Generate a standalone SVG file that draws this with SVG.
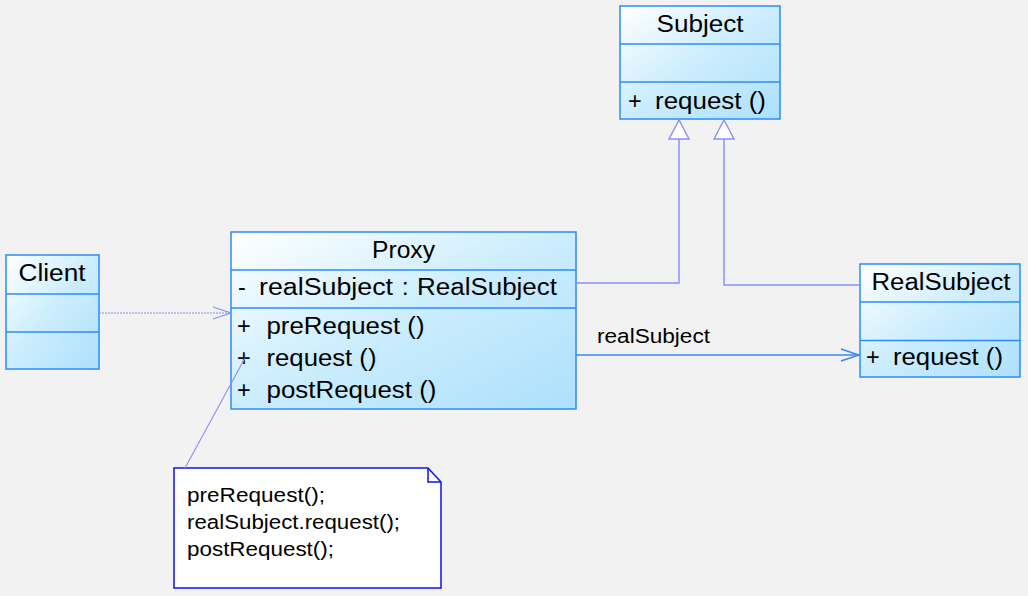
<svg xmlns="http://www.w3.org/2000/svg" width="1028" height="596" viewBox="0 0 1028 596">
<defs>
<linearGradient id="cls" x1="0" y1="0" x2="1" y2="1">
<stop offset="0" stop-color="#ffffff"/>
<stop offset="0.5" stop-color="#cbedfd"/>
<stop offset="1" stop-color="#ade0fc"/>
</linearGradient>
</defs>
<style>
.box{fill:url(#cls);stroke:#2a8cfc;stroke-width:1.5}
.div{stroke:#2a8cfc;stroke-width:1.5}
.t{font-family:"Liberation Sans",Arial,sans-serif;font-size:23.5px;fill:#000}
.c{text-anchor:middle}
.gen{fill:none;stroke:#8c8cff;stroke-width:1.4}
.tri{fill:#ffffff;stroke:#8c8cff;stroke-width:1.4}
.lbl{font-family:"Liberation Sans",Arial,sans-serif;font-size:20.5px;fill:#000}
.note{font-family:"Liberation Sans",Arial,sans-serif;font-size:20.5px;fill:#000}
</style>
<rect width="1028" height="596" fill="#f2f2f2"/>

<g id="subject">
<rect class="box" x="620" y="6" width="160" height="113"/>
<line class="div" x1="620" y1="44" x2="780" y2="44"/>
<line class="div" x1="620" y1="82" x2="780" y2="82"/>
<text class="t c" x="700" y="31.5" textLength="87" lengthAdjust="spacingAndGlyphs">Subject</text>
<text class="t" x="628" y="108.5">+</text>
<text class="t" x="655" y="108.5" textLength="111" lengthAdjust="spacingAndGlyphs">request ()</text>
</g>

<g id="proxy">
<rect class="box" x="231" y="232" width="345" height="177"/>
<line class="div" x1="231" y1="270" x2="576" y2="270"/>
<line class="div" x1="231" y1="308" x2="576" y2="308"/>
<text class="t c" x="403.5" y="257.5" textLength="63" lengthAdjust="spacingAndGlyphs">Proxy</text>
<text class="t" x="238" y="295">-</text>
<text class="t" x="259" y="295" textLength="134" lengthAdjust="spacingAndGlyphs">realSubject</text>
<text class="t" x="402" y="295">:</text>
<text class="t" x="417" y="295" textLength="140" lengthAdjust="spacingAndGlyphs">RealSubject</text>
<text class="t" x="237" y="333.5">+</text>
<text class="t" x="266.5" y="333.5" textLength="158" lengthAdjust="spacingAndGlyphs">preRequest ()</text>
<text class="t" x="237" y="365.5">+</text>
<text class="t" x="266.5" y="365.5" textLength="110" lengthAdjust="spacingAndGlyphs">request ()</text>
<text class="t" x="237" y="397.5">+</text>
<text class="t" x="266.5" y="397.5" textLength="170" lengthAdjust="spacingAndGlyphs">postRequest ()</text>
</g>

<g id="client">
<rect class="box" x="6" y="255" width="93" height="114"/>
<line class="div" x1="6" y1="294" x2="99" y2="294"/>
<line class="div" x1="6" y1="332" x2="99" y2="332"/>
<text class="t c" x="52" y="280.5" textLength="67" lengthAdjust="spacingAndGlyphs">Client</text>
</g>

<g id="realsubject">
<rect class="box" x="860" y="264" width="160" height="113"/>
<line class="div" x1="860" y1="302" x2="1020" y2="302"/>
<line class="div" x1="860" y1="340.5" x2="1020" y2="340.5"/>
<text class="t c" x="941" y="290" textLength="139" lengthAdjust="spacingAndGlyphs">RealSubject</text>
<text class="t" x="866" y="365">+</text>
<text class="t" x="893" y="365" textLength="110" lengthAdjust="spacingAndGlyphs">request ()</text>
</g>

<g id="note">
<path d="M174,468 L428,468 L441,482 L441,588 L174,588 Z" fill="#ffffff" stroke="#1010f0" stroke-width="1.5"/>
<path d="M428,468 L428,482 L441,482" fill="none" stroke="#1010f0" stroke-width="1.5"/>
<text class="note" x="187" y="502" textLength="138" lengthAdjust="spacingAndGlyphs">preRequest();</text>
<text class="note" x="187" y="529" textLength="213" lengthAdjust="spacingAndGlyphs">realSubject.request();</text>
<text class="note" x="187" y="556" textLength="147" lengthAdjust="spacingAndGlyphs">postRequest();</text>
</g>

<g id="connectors">
<polyline class="gen" points="576,283 679,283 679,139"/>
<polyline class="gen" points="860,285 724,285 724,139"/>
<polygon class="tri" points="679,120 669,139 689,139"/>
<polygon class="tri" points="724,120 714,139 734,139"/>
<line x1="99" y1="313" x2="231" y2="313" stroke="#8c8cf5" stroke-width="1.2" stroke-dasharray="2,1"/>
<path d="M213,307 L231,313 L213,319" fill="none" stroke="#8c8cf5" stroke-width="1.2"/>
<line x1="576" y1="355" x2="860" y2="355" stroke="#3a86fa" stroke-width="1.4"/>
<path d="M841,349 L859,355 L841,361" fill="none" stroke="#3a86fa" stroke-width="1.4"/>
<text class="lbl" x="597" y="342.5" textLength="113" lengthAdjust="spacingAndGlyphs">realSubject</text>
<line x1="185" y1="468" x2="245" y2="358" stroke="#8c8cff" stroke-width="1.1"/>
</g>
</svg>
